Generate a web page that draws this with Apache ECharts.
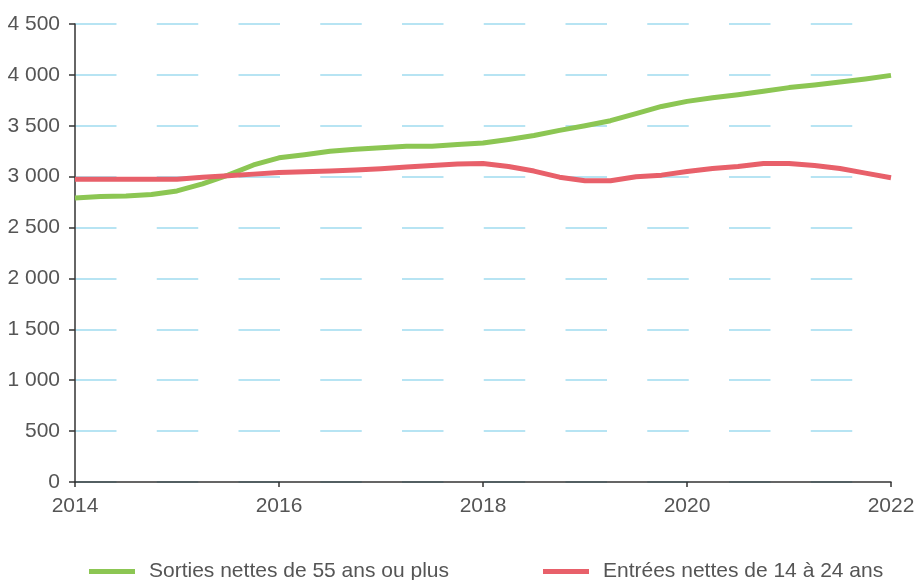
<!DOCTYPE html>
<html>
<head>
<meta charset="utf-8">
<script src="https://cdn.jsdelivr.net/npm/echarts@6/dist/echarts.min.js"></script>
<style>
html,body{margin:0;padding:0;background:#fff;}
#chart{width:918px;height:580px;}
</style>
</head>
<body>
<div id="chart"></div>
<script>
// Quarterly categories, 2014 T1 .. 2022 T1
const quarters = [
  '2014 T1','2014 T2','2014 T3','2014 T4',
  '2015 T1','2015 T2','2015 T3','2015 T4',
  '2016 T1','2016 T2','2016 T3','2016 T4',
  '2017 T1','2017 T2','2017 T3','2017 T4',
  '2018 T1','2018 T2','2018 T3','2018 T4',
  '2019 T1','2019 T2','2019 T3','2019 T4',
  '2020 T1','2020 T2','2020 T3','2020 T4',
  '2021 T1','2021 T2','2021 T3','2021 T4',
  '2022 T1'
];
const sortiesLabel = 'Sorties nettes de 55 ans ou plus';
const entreesLabel = 'Entrées nettes de 14 à 24 ans';
const sorties55 = [
  2790, 2805, 2810, 2825,
  2860, 2930, 3015, 3115,
  3185, 3215, 3250, 3270,
  3285, 3300, 3300, 3315,
  3330, 3365, 3405, 3455,
  3500, 3550, 3620, 3690,
  3740, 3775, 3805, 3840,
  3875, 3900, 3930, 3960,
  3995
];
const entrees1424 = [
  2975, 2975, 2975, 2975,
  2975, 2995, 3010, 3025,
  3040, 3048, 3055, 3065,
  3078, 3095, 3110, 3125,
  3130, 3100, 3055, 2995,
  2960, 2960, 3000, 3015,
  3050, 3080, 3100, 3130,
  3130, 3110, 3080, 3035,
  2990
];
const yTicks = [0, 500, 1000, 1500, 2000, 2500, 3000, 3500, 4000, 4500];

const FONT = '"Liberation Sans", Arial, sans-serif';
const FS = 21;
const TXT = '#555555';
const GREEN = '#8cc653';
const RED = '#e8606a';

const legendText = {fontFamily: FONT, fontSize: FS, color: TXT, padding: [0, 0, 0, 9]};

const chart = echarts.init(document.getElementById('chart'), null, {renderer: 'canvas'});
chart.setOption({
  animation: false,
  backgroundColor: '#ffffff',
  grid: {left: 75, right: 27, top: 24, bottom: 98, containLabel: false, outerBoundsMode: 'none'},
  legend: [
    {
      left: 89, top: 561, padding: 0,
      itemWidth: 46, itemHeight: 5, icon: 'rect',
      textStyle: legendText,
      data: [sortiesLabel]
    },
    {
      left: 543, top: 561, padding: 0,
      itemWidth: 46, itemHeight: 5, icon: 'rect',
      textStyle: legendText,
      data: [entreesLabel]
    }
  ],
  xAxis: {
    type: 'category',
    data: quarters,
    boundaryGap: false,
    axisLine: {show: true, lineStyle: {color: '#333333', width: 1.5}},
    axisTick: {show: true, interval: 7, length: 5, inside: false, lineStyle: {color: '#333333', width: 1.5}},
    axisLabel: {
      interval: 7, margin: 14, fontFamily: FONT, fontSize: FS, color: TXT,
      formatter: v => v.slice(0, 4)
    },
    splitLine: {show: false}
  },
  yAxis: {
    type: 'value',
    min: yTicks[0],
    max: yTicks[yTicks.length - 1],
    interval: 500,
    axisLine: {show: true, lineStyle: {color: '#333333', width: 1.5}},
    axisTick: {show: true, length: 6, lineStyle: {color: '#333333', width: 1.5}},
    axisLabel: {
      margin: 15, fontFamily: FONT, fontSize: FS, color: TXT,
      formatter: v => String(v).replace(/\B(?=(\d{3})+(?!\d))/g, ' ')
    },
    splitLine: {
      show: true,
      lineStyle: {color: '#a0dcf0', width: 1.5, type: [41.5, 40.25], dashOffset: 0}
    }
  },
  series: [
    {
      name: sortiesLabel,
      type: 'line',
      data: sorties55,
      showSymbol: false,
      symbol: 'none',
      smooth: false,
      lineStyle: {color: GREEN, width: 5, join: 'round', cap: 'butt'},
      itemStyle: {color: GREEN},
      z: 3
    },
    {
      name: entreesLabel,
      type: 'line',
      data: entrees1424,
      showSymbol: false,
      symbol: 'none',
      smooth: false,
      lineStyle: {color: RED, width: 5, join: 'round', cap: 'butt'},
      itemStyle: {color: RED},
      z: 4
    }
  ]
});
</script>
</body>
</html>
